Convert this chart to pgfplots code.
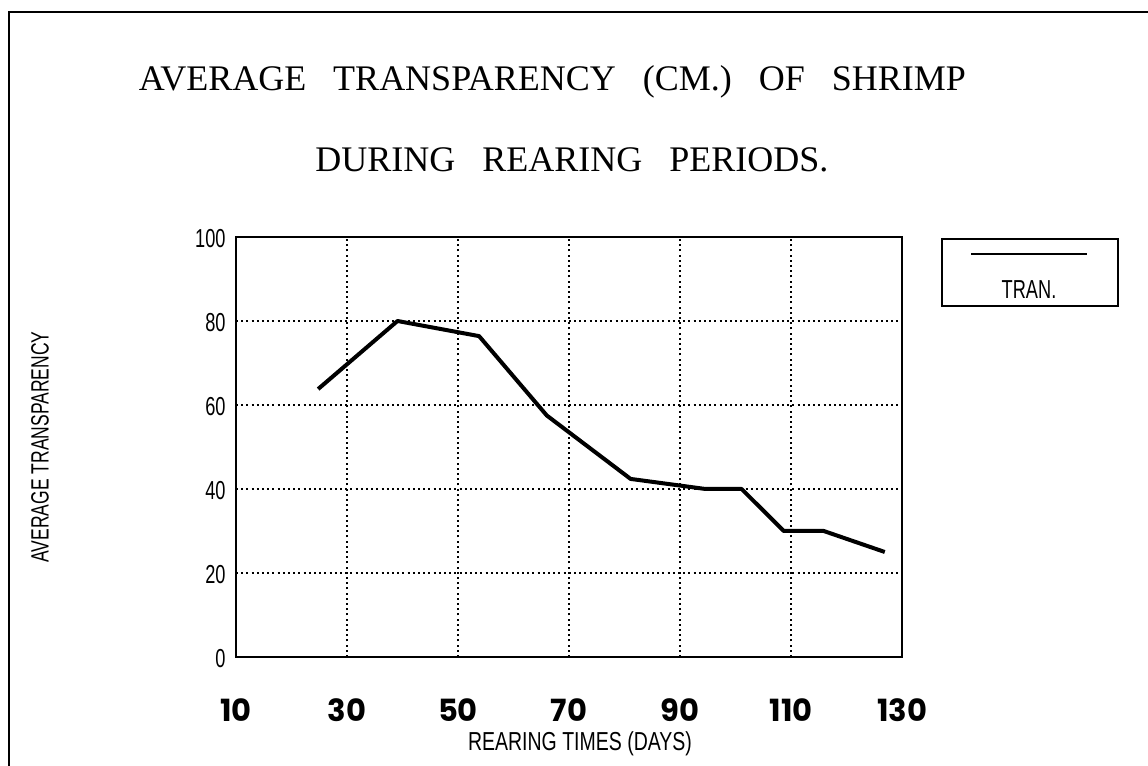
\documentclass[border=0pt]{standalone}
\usepackage{fontspec}
\setmainfont{Liberation Serif}
\newfontfamily\narrow[FakeStretch=0.7]{Liberation Sans}
\newfontfamily\narrowx[FakeStretch=0.75]{Liberation Sans}
\newfontfamily\tickfont{Poppins}
\usepackage{pgfplots}
\pgfplotsset{compat=1.18}
\begin{document}
\begin{tikzpicture}
\path[use as bounding box] (0,0) rectangle (574pt,383pt);
\draw[line width=1pt] (4.5pt,0pt) -- (4.5pt,377pt) -- (574pt,377pt);
\node[anchor=base, inner sep=0pt, font=\fontsize{18}{20}\selectfont] at (276.25pt,337.5pt)
  {AVERAGE\hspace{0.75em}TRANSPARENCY\hspace{0.75em}(CM.)\hspace{0.75em}OF\hspace{0.75em}SHRIMP};
\node[anchor=base, inner sep=0pt, font=\fontsize{18}{20}\selectfont] at (286pt,297pt)
  {DURING\hspace{0.75em}REARING\hspace{0.75em}PERIODS.};
\begin{axis}[
  at={(118pt,54.5pt)}, anchor=south west,
  scale only axis, width=333pt, height=210pt,
  xmin=10, xmax=130, ymin=0, ymax=100,
  xtick={10,30,50,70,90,110,130}, xticklabels={10,30,50,70,90,110,130},
  ytick={0,20,40,60,80,100}, yticklabels={0,20,40,60,80,100},
  major tick length=0pt,
  grid=major,
  major grid style={black, line width=0.6pt, dash pattern=on 1pt off 1.6pt},
  axis line style={line width=1pt},
  xticklabel style={font=\tickfont\bfseries\fontsize{15.3}{16}\selectfont, anchor=base, inner sep=0pt, yshift=-32.5pt},
  yticklabel style={font=\narrow\fontsize{13}{14}\selectfont, anchor=east, inner sep=0pt, xshift=-5pt, yshift=-1pt},
  xlabel={REARING TIMES (DAYS)},
  xlabel style={font=\narrowx\fontsize{13}{14}\selectfont, at={(axis description cs:0.5165,-0.2238)}, anchor=base, inner sep=0pt},
  ylabel={AVERAGE TRANSPARENCY},
  ylabel style={font=\narrow\fontsize{12.5}{14}\selectfont, at={(axis description cs:-0.2943,0.5)}, anchor=center, inner sep=0pt},
  legend style={at={(axis description cs:1.0601,0.9952)}, anchor=north west, draw=black, line width=0.8pt, inner sep=0pt, outer sep=0pt, nodes={inner sep=0pt}, column sep=0pt, row sep=0pt},
  legend image code/.code={
    \path[draw=none, fill=none] (-14.5pt,-4pt) rectangle (72.5pt,29.5pt);
    \draw[line width=0.8pt] (0pt,22pt) -- (58pt,22pt);
    \node[anchor=base, inner sep=0pt, font=\narrow\fontsize{13}{14}\selectfont] at (29pt,0pt) {TRAN.};
  },
]
\addplot[black, line width=2pt, line join=round] coordinates {
  (24.8,63.8) (39.1,80.0) (53.8,76.4) (66.0,57.5) (81.1,42.4)
  (94.6,40.0) (101.1,40.0) (108.7,30.0) (115.9,30.0) (126.9,25.0)
};
\addlegendentry{\mbox{}}
\end{axis}
\end{tikzpicture}
\end{document}
